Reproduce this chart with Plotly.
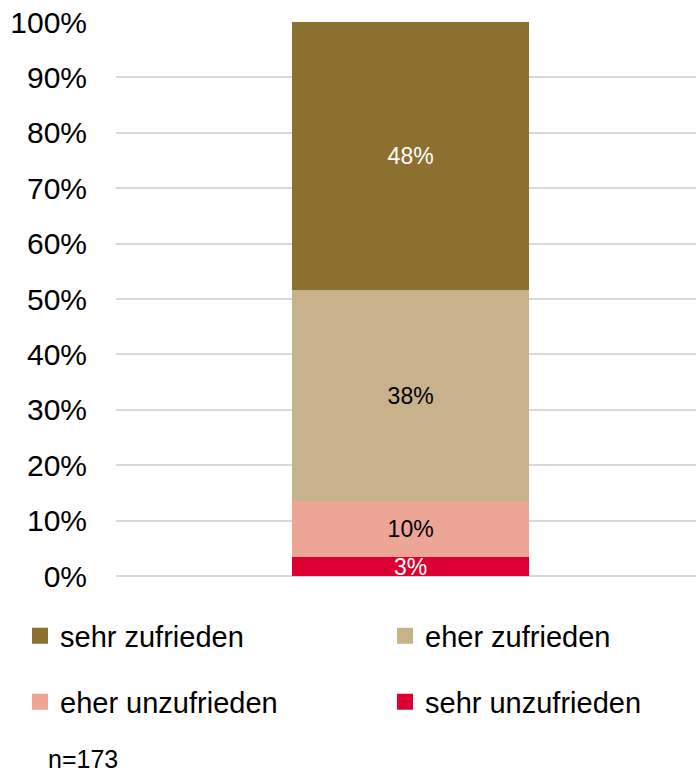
import plotly.graph_objects as go

# Data (bottom to top of the stacked bar)
categories = ["Zufriedenheit"]
series_names = ["sehr unzufrieden", "eher unzufrieden", "eher zufrieden", "sehr zufrieden"]
series_values = [3.4, 10.1, 38.1, 48.4]
series_colors = ["#DC0032", "#EDA595", "#C7B28B", "#8C702F"]
label_colors = ["white", "black", "black", "white"]
y_ticks = [0, 10, 20, 30, 40, 50, 60, 70, 80, 90, 100]
y_tick_labels = ["0%", "10%", "20%", "30%", "40%", "50%", "60%", "70%", "80%", "90%", "100%"]
note_text = "n=173"

W, H = 696, 774
L, T, B = 116, 22, 198
PW, PH = W - L, H - T - B

FONT = "Liberation Sans, Arial, sans-serif"

fig = go.Figure()
for name, val, col, lc in zip(series_names, series_values, series_colors, label_colors):
    fig.add_trace(go.Bar(
        x=categories, y=[val], name=name,
        marker=dict(color=col, line=dict(width=0)),
        width=0.409,
        text=[f"{val:.0f}%"], textposition="inside", insidetextanchor="middle",
        textfont=dict(family=FONT, size=23, color=lc),
        constraintext="none",
        showlegend=False,
        hoverinfo="skip",
    ))

# Legend entries (one legend per entry to place them in a 2x2 grid)
legend_ids = {"sehr zufrieden": "legend", "eher zufrieden": "legend2",
              "eher unzufrieden": "legend3", "sehr unzufrieden": "legend4"}
legend_pos = {"legend": (20, 636), "legend2": (385, 636),
              "legend3": (20, 702), "legend4": (385, 702)}
for name, col in zip(series_names, series_colors):
    fig.add_trace(go.Scatter(
        x=[None], y=[None], name=name, mode="markers",
        marker=dict(symbol="square", size=16, color=col, line=dict(width=0)),
        legend=legend_ids[name], hoverinfo="skip",
    ))

legend_layout = {}
for lid, (px, py) in legend_pos.items():
    legend_layout[lid] = dict(
        orientation="h", xref="container", yref="container",
        x=px / W, y=1 - py / H, xanchor="left", yanchor="middle",
        font=dict(family=FONT, size=29, color="black"),
        bgcolor="rgba(0,0,0,0)", borderwidth=0,
    )

fig.update_layout(
    width=W, height=H,
    margin=dict(l=L, r=0, t=T, b=B, autoexpand=False),
    barmode="stack",
    paper_bgcolor="white", plot_bgcolor="white",
    font=dict(family=FONT, color="black"),
    showlegend=True,
    xaxis=dict(visible=False, range=[-0.508, 0.492]),
    yaxis=dict(
        range=[0, 100], tickvals=y_ticks, ticktext=y_tick_labels,
        showgrid=True, gridcolor="#D9D9D9", gridwidth=1.5,
        zeroline=True, zerolinecolor="#D9D9D9", zerolinewidth=1.5,
        showline=False, ticks="", automargin=False,
        tickfont=dict(family=FONT, size=30, color="black"),
        ticklabelstandoff=28,
    ),
    annotations=[dict(
        text=note_text, xref="paper", yref="paper",
        x=(46 - L) / PW, y=(H - B - 759) / PH, xanchor="left", yanchor="middle",
        showarrow=False, font=dict(family=FONT, size=25, color="black"),
    )],
    **legend_layout,
)

# Remove the default 8px page margin so the figure fills the window exactly.
fig.write_html("out.html", config={"displayModeBar": False},
               post_script="document.body.style.margin='0';")
